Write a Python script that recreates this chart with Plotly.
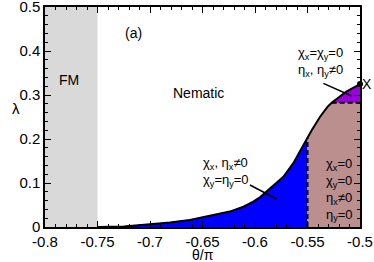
import plotly.graph_objects as go

# ---- data ----
fm_theta = [-0.8, -0.75]
boundary_theta = [-0.75, -0.725, -0.70, -0.681, -0.662, -0.643, -0.624, -0.611,
                  -0.6016, -0.595, -0.5857, -0.573, -0.5635, -0.5556, -0.55,
                  -0.546, -0.538, -0.531, -0.527, -0.513, -0.5]
boundary_lambda = [0.0, 0.001, 0.006, 0.010, 0.016, 0.025, 0.035, 0.046,
                   0.0575, 0.068, 0.088, 0.114, 0.145, 0.179, 0.203,
                   0.220, 0.2507, 0.273, 0.2825, 0.3075, 0.325]
split_theta = -0.55
split_lambda = 0.2825
x_ticks = [-0.8, -0.75, -0.7, -0.65, -0.6, -0.55, -0.5]
x_ticklabels = ["-0.8", "-0.75", "-0.7", "-0.65", "-0.6", "-0.55", "-0.5"]
y_ticks = [0, 0.1, 0.2, 0.3, 0.4, 0.5]
y_ticklabels = ["0", "0.1", "0.2", "0.3", "0.4", "0.5"]
pointer1_theta = [-0.6048, -0.5794]
pointer1_lambda = [0.0955, 0.0636]
pointer2_theta = [-0.5349, -0.5079]
pointer2_lambda = [0.3265, 0.2977]

x_min, x_max = -0.8, -0.5
y_min, y_max = 0.0, 0.5

# ---- build region polygons from boundary ----
pts = list(zip(boundary_theta, boundary_lambda))
blue = [(t, l) for t, l in pts if t <= split_theta]
blue_x = [t for t, l in blue] + [split_theta, blue[0][0]]
blue_y = [l for t, l in blue] + [y_min, y_min]

brown = [(t, l) for t, l in pts if split_theta <= t and l <= split_lambda]
brown_x = [split_theta] + [t for t, l in brown] + [x_max, x_max]
brown_y = [y_min] + [l for t, l in brown] + [split_lambda, y_min]

purple = [(t, l) for t, l in pts if l >= split_lambda]
purple_x = [t for t, l in purple] + [x_max]
purple_y = [l for t, l in purple] + [split_lambda]
split_top = [l for t, l in pts if t == split_theta][0]
purple_start = purple[0][0]

fig = go.Figure()
fig.add_shape(type="rect", x0=fm_theta[0], x1=fm_theta[1], y0=y_min, y1=y_max,
              fillcolor="#d9d9d9", line_width=0, layer="below")

fig.add_trace(go.Scatter(x=blue_x, y=blue_y, fill="toself", fillcolor="#0000ff",
                         line=dict(width=1, color="#0000ff"), mode="lines", hoverinfo="skip"))
fig.add_trace(go.Scatter(x=brown_x, y=brown_y, fill="toself", fillcolor="#bc8f8f",
                         line=dict(width=1, color="#bc8f8f"), mode="lines", hoverinfo="skip"))
fig.add_trace(go.Scatter(x=purple_x, y=purple_y, fill="toself", fillcolor="#9c00dc",
                         line=dict(width=1, color="#9c00dc"), mode="lines", hoverinfo="skip"))
# dashed splits
fig.add_trace(go.Scatter(x=[split_theta, split_theta], y=[y_min, split_top], mode="lines",
                         line=dict(color="black", width=2, dash="5px,3px")))
fig.add_trace(go.Scatter(x=[purple_start, x_max], y=[split_lambda, split_lambda], mode="lines",
                         line=dict(color="black", width=2, dash="5px,3px")))
# boundary
fig.add_trace(go.Scatter(x=boundary_theta, y=boundary_lambda, mode="lines",
                         line=dict(color="black", width=2), cliponaxis=False))
# pointers
fig.add_trace(go.Scatter(x=pointer1_theta, y=pointer1_lambda, mode="lines",
                         line=dict(color="black", width=1.5)))
fig.add_trace(go.Scatter(x=pointer2_theta, y=pointer2_lambda, mode="lines",
                         line=dict(color="black", width=1.5)))
# X point
fig.add_trace(go.Scatter(x=[boundary_theta[-1]], y=[boundary_lambda[-1]], mode="markers",
                         marker=dict(color="black", size=6), cliponaxis=False))

FAM = "Liberation Sans, Arial, sans-serif"
font = dict(family=FAM, size=14, color="black")
sfont = dict(family=FAM, size=13, color="black")
ann = [
    dict(x=-0.777, y=0.334, text="FM", font=font),
    dict(x=-0.654, y=0.305, text="Nematic", font=font),
    dict(x=-0.716, y=0.441, text="(a)", font=font),
    dict(x=boundary_theta[-1], y=boundary_lambda[-1], text="X", font=font,
         xanchor="left", xshift=0),
    dict(x=-0.5375, y=0.3750, text="χ<sub>x</sub>=χ<sub>y</sub>=0<br>η<sub>x</sub>, η<sub>y</sub>≠0",
         font=sfont, align="left"),
    dict(x=-0.6275, y=0.1250, text="χ<sub>x</sub>, η<sub>x</sub>≠0<br>χ<sub>y</sub>=η<sub>y</sub>=0",
         font=sfont, align="left"),
    dict(x=-0.5200, y=0.0850,
         text="χ<sub>x</sub>=0<br>χ<sub>y</sub>=0<br>η<sub>x</sub>≠0<br>η<sub>y</sub>=0",
         font=sfont, align="left"),
]
for a in ann:
    a.setdefault("showarrow", False)
    a["xref"] = "x"
    a["yref"] = "y"
# axis titles
ann.append(dict(x=0.5, y=0, xref="paper", yref="paper", yshift=-28, yanchor="middle",
                text="θ/π", showarrow=False, font=dict(family=FAM, size=14, color="black")))
ann.append(dict(x=0, y=0.5, xref="paper", yref="paper", xshift=-35, yshift=9,
                text="λ", showarrow=False, font=dict(family=FAM, size=15, color="black")))

fig.update_layout(
    width=374, height=262,
    margin=dict(l=45, r=14, t=7, b=35, autoexpand=False),
    plot_bgcolor="white", paper_bgcolor="white",
    showlegend=False,
    annotations=ann,
    font=dict(family=FAM, size=15, color="black"),
)
axis_common = dict(showline=True, linecolor="black", linewidth=1.5, mirror="ticks",
                   ticks="inside", ticklen=6, tickwidth=1, tickcolor="black",
                   showgrid=False, zeroline=False, automargin=False,
                   ticklabeloverflow="allow",
                   tickfont=dict(family=FAM, size=15))
fig.update_xaxes(range=[x_min, x_max], tickvals=x_ticks, ticktext=x_ticklabels,
                 minor=dict(ticks="inside", dtick=0.01, ticklen=3, tickcolor="black", showgrid=False),
                 **axis_common)
fig.update_yaxes(range=[y_min, y_max], tickvals=y_ticks, ticktext=y_ticklabels,
                 minor=dict(ticks="inside", dtick=0.02, ticklen=3, tickcolor="black", showgrid=False),
                 **axis_common)

fig.write_html("out.html", config={"displayModeBar": False},
               post_script="document.body.style.margin='0';document.body.style.overflow='hidden';")
